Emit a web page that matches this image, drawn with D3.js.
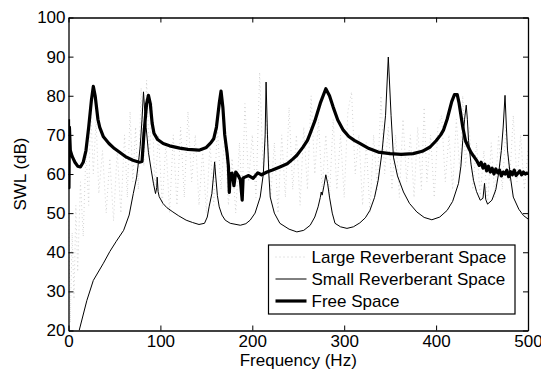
<!DOCTYPE html>
<html>
<head>
<meta charset="utf-8">
<script src="https://cdn.jsdelivr.net/npm/d3@7"></script>
<style>
  body { margin: 0; background: #fff; }
  text { font-family: "Liberation Sans", Arial, sans-serif; }
</style>
</head>
<body>
<div class="swl-chart"></div>
<script>
// tick values
const xTicks = [0, 100, 200, 300, 400, 500];
const yTicks = [20, 30, 40, 50, 60, 70, 80, 90, 100];

const legendLabels = ["Large Reverberant Space", "Small Reverberant Space", "Free Space"];

// Large reverberant space (dense modal response)
const largeFreq = [0, 2, 4, 6, 8, 10, 13, 16, 19, 22, 24, 27, 30, 33, 37, 41, 45, 49, 53, 57, 61, 64, 67, 70, 73, 76, 79, 82, 85, 88, 91, 94, 98, 102, 106, 110, 114, 118, 122, 126, 130, 134, 138, 142, 146, 150, 154, 158, 162, 166, 170, 174, 178, 182, 186, 189, 192, 196, 200, 204, 208, 212, 216, 220, 224, 228, 232, 236, 240, 244, 248, 252, 256, 260, 264, 268, 272, 276, 280, 284, 288, 292, 296, 300, 304, 308, 312, 316, 320, 324, 328, 332, 336, 340, 344, 348, 352, 356, 360, 364, 368, 372, 376, 380, 384, 387, 390, 394, 398, 402, 406, 410, 414, 418, 422, 426, 429, 432, 436, 440, 444, 448, 452, 456, 460, 464, 468, 472, 476, 480, 484, 488, 492, 496, 500];
const largeLevel = [50, 22, 45, 28, 52, 35, 58, 44, 66, 52, 78, 60, 74, 55, 66, 50, 64, 48, 66, 50, 70, 54, 76, 58, 72, 56, 82, 62, 84, 64, 78, 56, 70, 52, 68, 50, 70, 52, 72, 54, 76, 58, 70, 52, 66, 50, 68, 52, 72, 56, 70, 52, 64, 50, 68, 54, 78, 58, 70, 54, 86, 60, 74, 54, 68, 50, 70, 54, 77, 56, 70, 52, 72, 56, 80, 60, 74, 56, 70, 54, 74, 56, 70, 54, 76, 81, 60, 70, 52, 68, 50, 70, 56, 80, 60, 72, 56, 70, 54, 74, 58, 70, 54, 72, 56, 77, 58, 70, 54, 72, 75, 58, 70, 56, 74, 60, 80, 62, 72, 56, 68, 54, 66, 52, 68, 54, 70, 56, 72, 58, 75, 58, 70, 56, 66];

// Small reverberant space
const smallFreq = [11.6, 20, 27, 38, 45, 52, 60, 66, 70.5, 74, 76, 78, 80, 81.6, 83, 84.5, 87, 90, 92.5, 94.7, 96, 96.5, 97.5, 98.7, 102.7, 107, 113.6, 120, 128, 135, 142, 148, 151, 153, 156, 158, 159, 160, 162, 164, 167, 170.5, 176, 187, 193, 197.7, 203, 208.6, 212, 214, 215, 216.5, 218, 219.5, 224, 230, 240, 248.5, 256, 263, 268, 271.6, 274, 275, 276, 278, 280, 282, 284, 287, 290, 296, 303, 310, 317, 323, 328, 333, 337, 341, 345, 348, 351, 353.6, 358, 364.5, 371, 379, 387, 395.4, 404, 412, 418, 424.4, 427, 429, 431, 432.8, 434, 435.3, 438, 440.7, 444, 448, 451, 452.7, 454, 456, 460.7, 465, 468, 471, 473, 475, 476.5, 477.7, 481, 484, 490, 495, 500];
const smallLevel = [20, 27.7, 32.8, 37.2, 40.2, 42.8, 45.6, 49.5, 55, 59, 62.7, 67, 74, 81, 76, 71.9, 65.5, 61, 57.5, 55, 56.5, 59.2, 55.5, 54.2, 52.5, 51.4, 50.3, 49.3, 48.2, 47.6, 47.1, 47.4, 49, 51.6, 55, 60, 63.1, 60, 54.5, 51.6, 49.5, 48.2, 47.4, 46.9, 47.3, 48.2, 50, 54.1, 60, 70, 83.5, 70, 60, 54.1, 50, 47.4, 45.9, 45.2, 45.6, 46.9, 49, 51.6, 54, 55.4, 54.6, 57, 59.8, 57.5, 54.1, 50, 47.4, 46.5, 46.1, 46.5, 47.5, 48.8, 50.7, 54, 58.4, 65.3, 75, 89.9, 75, 64.3, 59.5, 55.4, 52.5, 50.3, 48.9, 48.3, 49, 50.7, 53, 57.6, 62, 68.6, 74, 77.6, 74, 68.6, 62.5, 58.4, 55.5, 53.3, 53.8, 57.6, 53.5, 52.3, 53.3, 56, 60.1, 66, 72, 80.1, 72, 66.1, 59, 54.1, 51, 49.4, 48.5];

// Free space
const freeFreq = [0, 0.5, 1, 2, 4, 7, 10, 13, 16, 19, 22, 25, 27, 29, 32, 34, 38, 44, 50, 56, 63, 70, 77, 80, 82, 85, 87, 89, 91, 93, 97, 103, 110, 121, 130, 142, 150, 155, 158, 161, 164, 166, 168, 170, 172.6, 174, 175, 176, 178, 180, 182, 185, 187, 189, 190, 192, 196, 201, 206, 210, 216, 222, 230, 238, 244, 248.5, 255, 260, 263, 268, 274, 280, 284, 288, 293, 299, 305, 311, 317, 327, 337, 350, 362, 375, 385, 393.5, 400, 405, 408, 412, 417, 420, 423, 425, 429, 432, 435, 438, 441, 444, 447, 449, 451, 453, 455, 457, 459, 461, 463, 465, 467, 469, 471, 473, 475, 477, 479, 481, 483, 485, 487, 489, 491, 493, 495, 497, 500];
const freeLevel = [74, 56.5, 72, 66, 64.5, 63, 62, 61.8, 63, 66, 72, 79, 82.4, 80, 74, 71.9, 69.5, 67.8, 66.5, 65.5, 64.3, 63.5, 63, 63.2, 70, 78, 80.1, 78, 73, 70.4, 68.8, 67.8, 67.2, 66.6, 66.3, 66.1, 66.8, 68, 69, 72, 78, 81.2, 77, 70, 65.3, 62, 55.3, 60, 60.2, 57, 60.5, 59.5, 58.5, 53.3, 59, 59.2, 59.6, 58.9, 60.3, 59.8, 60.5, 61, 61.8, 62.6, 63.8, 64.8, 66.8, 68.6, 70.4, 73.5, 78.1, 81.8, 80, 77.1, 73.8, 71.2, 69.6, 68.6, 67.8, 66.5, 65.6, 65.2, 65, 65.2, 65.8, 66.9, 68.5, 70, 71.2, 74, 78.5, 80.3, 80.3, 78.1, 72, 68.5, 66.9, 65.5, 64.5, 63.5, 62.2, 63, 61.5, 62.5, 60.8, 62, 60.5, 61.5, 60, 61.3, 60.3, 61, 59.5, 60.5, 60, 61, 59.3, 60.6, 59.8, 61, 59.6, 60.2, 60.8, 59.8, 60.5, 60, 60.3];

const large = largeFreq.map((f, i) => ({ f: f, v: largeLevel[i] }));
const small = smallFreq.map((f, i) => ({ f: f, v: smallLevel[i] }));
const free = freeFreq.map((f, i) => ({ f: f, v: freeLevel[i] }));

const margin = { top: 17.5, right: 13, bottom: 41.5, left: 68.5 };
const width = 541 - margin.left - margin.right;
const height = 372 - margin.top - margin.bottom;

const svg = d3
  .select(".swl-chart")
  .append("svg")
  .attr("width", 541)
  .attr("height", 372)
  .append("g")
  .attr("transform", "translate(" + margin.left + "," + margin.top + ")");

const x = d3.scaleLinear().domain([0, 500]).range([0, width]);
const y = d3.scaleLinear().domain([20, 100]).range([height, 0]);

svg
  .append("clipPath")
  .attr("id", "plot-clip")
  .append("rect")
  .attr("width", width)
  .attr("height", height);

const line = d3
  .line()
  .x((d) => x(d.f))
  .y((d) => y(d.v));

const plot = svg.append("g").attr("clip-path", "url(#plot-clip)");

plot
  .append("path")
  .datum(large)
  .attr("fill", "none")
  .attr("stroke", "#d2d2d2")
  .attr("stroke-width", 1)
  .attr("stroke-dasharray", "1,3")
  .attr("d", line);

plot
  .append("path")
  .datum(small)
  .attr("fill", "none")
  .attr("stroke", "black")
  .attr("stroke-width", 1)
  .attr("stroke-linejoin", "round")
  .attr("d", line);

plot
  .append("path")
  .datum(free)
  .attr("fill", "none")
  .attr("stroke", "black")
  .attr("stroke-width", 3.2)
  .attr("stroke-linejoin", "round")
  .attr("d", line);

// axes, ticks pointing inward on all four sides
const xAxis = d3.axisBottom(x).tickValues(xTicks).tickSize(-5).tickSizeOuter(0).tickPadding(4);
const yAxis = d3.axisLeft(y).tickValues(yTicks).tickSize(-5).tickSizeOuter(0).tickPadding(3);
const xTop = d3.axisTop(x).tickValues(xTicks).tickSize(-5).tickSizeOuter(0).tickFormat("");
const yRight = d3.axisRight(y).tickValues(yTicks).tickSize(-5).tickSizeOuter(0).tickFormat("");

function styleAxis(g) {
  g.selectAll(".domain").attr("stroke", "black").attr("stroke-width", 1.3);
  g.selectAll(".tick line").attr("stroke", "black").attr("stroke-width", 1);
  g.selectAll("text")
    .attr("fill", "black")
    .attr("font-family", "'Liberation Sans', Arial, sans-serif")
    .attr("font-size", "17px");
}

svg.append("g").attr("transform", `translate(0, ${height})`).call(xAxis).call(styleAxis);
svg.append("g").call(yAxis).call(styleAxis);
svg.append("g").call(xTop).call(styleAxis);
svg.append("g").attr("transform", `translate(${width}, 0)`).call(yRight).call(styleAxis);

svg
  .append("text")
  .attr("x", width / 2)
  .attr("y", height + 35)
  .attr("text-anchor", "middle")
  .attr("font-size", "17px")
  .text("Frequency (Hz)");

svg
  .append("text")
  .attr("transform", `translate(${-43}, ${height / 2}) rotate(-90)`)
  .attr("text-anchor", "middle")
  .attr("font-size", "17px")
  .text("SWL (dB)");

// legend
const legend = svg.append("g").attr("transform", "translate(200, 227.5)");

legend
  .append("rect")
  .attr("width", 246.5)
  .attr("height", 69)
  .attr("fill", "white")
  .attr("stroke", "black")
  .attr("stroke-width", 1.2);

const legendStyles = [
  { stroke: "#c8c8c8", width: 1, dash: "1,3" },
  { stroke: "black", width: 1, dash: null },
  { stroke: "black", width: 3.2, dash: null },
];

const entry = legend
  .selectAll("g")
  .data(legendLabels)
  .join("g")
  .attr("transform", (d, i) => `translate(0, ${12 + i * 22})`);

entry
  .append("line")
  .attr("x1", 7)
  .attr("x2", 38)
  .attr("stroke", (d, i) => legendStyles[i].stroke)
  .attr("stroke-width", (d, i) => legendStyles[i].width)
  .attr("stroke-dasharray", (d, i) => legendStyles[i].dash);

entry
  .append("text")
  .attr("x", 43)
  .attr("dy", "0.35em")
  .attr("font-size", "17px")
  .text((d) => d);
</script>
</body>
</html>
